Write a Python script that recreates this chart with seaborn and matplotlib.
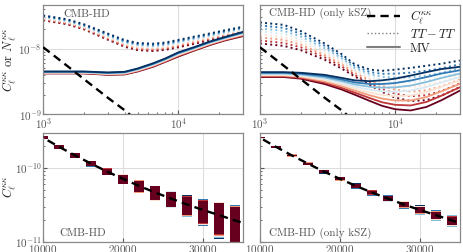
import numpy as np
import matplotlib
matplotlib.use("Agg")
import matplotlib.pyplot as plt
from matplotlib.lines import Line2D
import seaborn as sns

# ---- data -----------------------------------------------------------------
ELL = [1000, 1500, 2000, 3000, 4000, 5000, 6500, 8000, 10000, 13000, 17000, 22000, 30000]

# lensing noise N_ell (x1e-9), rows: 8 foreground levels, red (low) -> blue (high)
HD_TT = [
    [27.0, 23.5, 19.7, 13.7, 10.7, 9.50, 9.2, 9.6, 10.5, 11.8, 13.4, 15.2, 17.5],
    [27.7, 24.1, 20.2, 14.1, 11.1, 9.85, 9.5, 10.0, 10.9, 12.2, 13.9, 15.7, 18.0],
    [28.4, 24.7, 20.7, 14.6, 11.4, 10.2, 9.9, 10.3, 11.3, 12.7, 14.4, 16.2, 18.6],
    [29.1, 25.3, 21.2, 15.0, 11.8, 10.6, 10.3, 10.7, 11.7, 13.2, 14.8, 16.7, 19.1],
    [29.8, 25.9, 21.7, 15.5, 12.2, 11.0, 10.6, 11.1, 12.1, 13.7, 15.4, 17.3, 19.7],
    [30.6, 26.6, 22.3, 16.0, 12.6, 11.4, 11.0, 11.5, 12.6, 14.2, 15.9, 17.8, 20.3],
    [31.3, 27.3, 22.9, 16.5, 13.0, 11.8, 11.4, 11.9, 13.1, 14.7, 16.4, 18.4, 20.9],
    [32.0, 28.0, 23.5, 17.0, 13.5, 12.2, 11.9, 12.4, 13.6, 15.2, 17.0, 19.0, 21.5],
]
HD_MV = [
    [4.20, 4.20, 4.20, 4.00, 4.05, 4.50, 5.3, 6.30, 7.60, 9.30, 11.30, 13.30, 15.50],
    [4.24, 4.24, 4.24, 4.05, 4.11, 4.57, 5.4, 6.41, 7.77, 9.47, 11.51, 13.54, 15.86],
    [4.29, 4.29, 4.29, 4.10, 4.16, 4.64, 5.5, 6.53, 7.94, 9.64, 11.73, 13.79, 16.21],
    [4.33, 4.33, 4.33, 4.15, 4.22, 4.71, 5.6, 6.64, 8.11, 9.81, 11.94, 14.03, 16.57],
    [4.37, 4.37, 4.37, 4.20, 4.28, 4.79, 5.7, 6.76, 8.29, 9.99, 12.16, 14.27, 16.93],
    [4.41, 4.41, 4.41, 4.25, 4.34, 4.86, 5.8, 6.87, 8.46, 10.16, 12.37, 14.51, 17.29],
    [4.46, 4.46, 4.46, 4.30, 4.39, 4.93, 5.9, 6.99, 8.63, 10.33, 12.59, 14.76, 17.64],
    [4.50, 4.50, 4.50, 4.35, 4.45, 5.00, 6.0, 7.10, 8.80, 10.50, 12.80, 15.00, 18.00],
]
KSZ_TT = [
    [12.0, 11.0, 9.5, 6.8, 5.0, 3.8, 2.8, 2.20, 1.80, 1.60, 1.65, 1.95, 2.60],
    [13.3, 12.2, 10.5, 7.4, 5.4, 4.0, 3.0, 2.44, 2.07, 1.89, 1.96, 2.28, 2.97],
    [14.8, 13.6, 11.5, 8.0, 5.8, 4.3, 3.3, 2.72, 2.38, 2.23, 2.33, 2.68, 3.39],
    [16.4, 15.1, 12.6, 8.7, 6.2, 4.6, 3.5, 3.02, 2.74, 2.63, 2.77, 3.13, 3.88],
    [18.3, 16.8, 13.9, 9.4, 6.7, 4.8, 3.8, 3.35, 3.15, 3.10, 3.29, 3.67, 4.43],
    [20.3, 18.6, 15.3, 10.2, 7.2, 5.1, 4.1, 3.73, 3.63, 3.66, 3.90, 4.30, 5.06],
    [22.5, 20.7, 16.8, 11.1, 7.7, 5.5, 4.4, 4.14, 4.17, 4.32, 4.63, 5.03, 5.78],
    [25.0, 23.0, 18.5, 12.0, 8.3, 5.8, 4.8, 4.60, 4.80, 5.10, 5.50, 5.90, 6.60],
]
KSZ_MV = [
    [3.70, 3.70, 3.50, 2.90, 2.40, 2.00, 1.60, 1.35, 1.20, 1.15, 1.30, 1.65, 2.30],
    [3.79, 3.79, 3.60, 3.04, 2.54, 2.15, 1.77, 1.53, 1.40, 1.37, 1.55, 1.93, 2.59],
    [3.89, 3.89, 3.71, 3.18, 2.70, 2.31, 1.95, 1.74, 1.63, 1.63, 1.84, 2.25, 2.92],
    [3.98, 3.98, 3.82, 3.33, 2.86, 2.48, 2.15, 1.98, 1.90, 1.94, 2.19, 2.63, 3.29],
    [4.08, 4.08, 3.94, 3.48, 3.03, 2.66, 2.38, 2.25, 2.21, 2.31, 2.61, 3.07, 3.71],
    [4.19, 4.19, 4.06, 3.65, 3.21, 2.86, 2.63, 2.56, 2.58, 2.75, 3.11, 3.59, 4.17],
    [4.29, 4.29, 4.18, 3.82, 3.40, 3.07, 2.90, 2.90, 3.00, 3.28, 3.70, 4.19, 4.70],
    [4.40, 4.40, 4.30, 4.00, 3.60, 3.30, 3.20, 3.30, 3.50, 3.90, 4.40, 4.90, 5.30],
]

# lensing power C_ell^kk (x1e-10)
ELL_C = [1000, 1500, 2000, 3000, 4000, 5000, 7000, 10000, 12000, 14000, 16000, 18000,
         20000, 22000, 24000, 26000, 28000, 30000, 32000, 34000, 35000]
CKK = [105, 55, 34.5, 18, 11.6, 7.9, 4.4, 2.55, 1.92, 1.47, 1.14, 0.89,
       0.71, 0.57, 0.465, 0.385, 0.32, 0.27, 0.23, 0.195, 0.18]

# bandpower bins and fractional errors (sigma / C), rows red -> blue
BINS = [10000, 12000, 14000, 16000, 18000, 20000, 22000, 24000, 26000, 28000, 30000, 32000, 34000]
CKK_BINS = [2.55, 1.92, 1.47, 1.14, 0.89, 0.71, 0.57, 0.465, 0.385, 0.32, 0.27, 0.23, 0.195]
HD_FRAC = [
    [.046, .061, .066, .077, .100, .137, .178, .207, .226, .280, .340, .450, .520],
    [.047, .062, .067, .078, .102, .140, .182, .212, .231, .287, .348, .461, .532],
    [.047, .063, .068, .080, .104, .143, .186, .216, .237, .293, .356, .471, .544],
    [.048, .064, .069, .081, .106, .146, .190, .221, .242, .300, .364, .482, .556],
    [.048, .064, .071, .083, .108, .148, .193, .226, .247, .307, .373, .493, .568],
    [.049, .065, .072, .084, .110, .151, .197, .231, .252, .314, .381, .504, .581],
    [.049, .066, .073, .086, .112, .154, .201, .235, .258, .320, .389, .514, .593],
    [.050, .067, .074, .087, .114, .157, .205, .240, .263, .327, .397, .525, .605],
]
KSZ_FRAC = [
    [.020, .024, .028, .032, .038, .045, .052, .060, .068, .077, .090, .105, .123],
    [.021, .026, .030, .035, .041, .049, .056, .065, .074, .084, .099, .115, .134],
    [.023, .027, .032, .037, .044, .052, .061, .070, .080, .092, .107, .124, .144],
    [.024, .029, .034, .040, .047, .056, .065, .075, .086, .099, .116, .134, .155],
    [.026, .031, .037, .042, .049, .059, .069, .080, .092, .106, .124, .144, .165],
    [.027, .033, .039, .045, .052, .063, .073, .085, .098, .113, .133, .154, .176],
    [.029, .034, .041, .047, .055, .066, .078, .090, .104, .121, .141, .163, .186],
    [.030, .036, .043, .050, .058, .070, .082, .095, .110, .128, .150, .173, .197],
]

# ---- style -----------------------------------------------------------------
sns.set_style("whitegrid")
plt.rcParams.update({
    "font.family": "serif",
    "font.serif": ["cmr10", "DejaVu Serif"],
    "mathtext.fontset": "cm",
    "axes.formatter.use_mathtext": True,
    "axes.unicode_minus": False,
    "axes.edgecolor": "#888888",
    "axes.linewidth": 0.9,
    "grid.color": "#dddddd",
    "grid.linewidth": 0.8,
    "xtick.color": "#555555",
    "ytick.color": "#555555",
})

n_cur = len(HD_TT)
colors = [plt.cm.RdBu(v) for v in np.linspace(0, 1, n_cur)]
ell = np.array(ELL)
ell_c = np.array(ELL_C)
ckk = np.array(CKK) * 1e-10
dash = (0, (3.5, 2.2))

fig, axes = plt.subplots(2, 2, figsize=(4.64, 2.52), dpi=100, sharey="row")
fig.subplots_adjust(left=0.093, right=0.991, top=0.98, bottom=0.04, wspace=0.085, hspace=0.165)

# ---- top row: noise curves -------------------------------------------------
for ax, tt, mv, name, tx in [(axes[0, 0], HD_TT, HD_MV, "CMB-HD", 0.22),
                             (axes[0, 1], KSZ_TT, KSZ_MV, "CMB-HD (only kSZ)", 0.30)]:
    for k in range(n_cur):
        sns.lineplot(x=ell, y=np.array(tt[k]) * 1e-9, ax=ax, color=colors[k],
                     linestyle=":", lw=1.4)
    for k in range(n_cur):
        sns.lineplot(x=ell, y=np.array(mv[k]) * 1e-9, ax=ax, color=colors[k], lw=1.3)
    sns.lineplot(x=ell_c, y=ckk, ax=ax, color="black", linestyle=dash, lw=1.7, zorder=5)
    ax.set_xscale("log")
    ax.set_yscale("log")
    ax.set_xlim(1000, 30000)
    ax.set_ylim(1e-9, 4.6e-8)
    ax.text(tx, 0.92, name, transform=ax.transAxes, ha="center", va="center",
            fontsize=8, color="#555555")

axes[0, 0].set_ylabel(r"$C_\ell^{\kappa\kappa}$ or $N_\ell^{\kappa\kappa}$", fontsize=9)
axes[0, 0].yaxis.set_label_coords(-0.125, 0.5)

handles = [Line2D([], [], color="black", linestyle=dash, lw=1.7),
           Line2D([], [], color="gray", linestyle=":", lw=1.0),
           Line2D([], [], color="gray", lw=1.5)]
axes[0, 1].legend(handles, [r"$C_\ell^{\kappa\kappa}$", r"$TT-TT$", "MV"], loc="upper right",
                  frameon=False, fontsize=9, handlelength=2.6, borderaxespad=0.05,
                  labelspacing=0.15, borderpad=0.2)

# ---- bottom row: binned C_ell with error boxes -----------------------------
bins = np.array(BINS)
cb = np.array(CKK_BINS) * 1e-10
for ax, frac, name in [(axes[1, 0], HD_FRAC, "CMB-HD"),
                       (axes[1, 1], KSZ_FRAC, "CMB-HD (only kSZ)")]:
    for k in reversed(range(n_cur)):
        sig = cb * np.array(frac[k])
        ax.bar(bins, 2 * sig, bottom=cb - sig, width=1250, color=colors[k], lw=0, zorder=2)
    sns.lineplot(x=ell_c, y=ckk, ax=ax, color="black", linestyle=dash, lw=1.7, zorder=5)
    ax.set_yscale("log")
    ax.set_xlim(10000, 35000)
    ax.set_ylim(1e-11, 3.0e-10)
    ax.set_xticks([10000, 20000, 30000])
    ax.text(0.30 if "kSZ" in name else 0.20, 0.08, name, transform=ax.transAxes,
            ha="center", va="center", fontsize=8, color="#555555")

axes[1, 0].set_ylabel(r"$C_\ell^{\kappa\kappa}$", fontsize=9)
axes[1, 0].yaxis.set_label_coords(-0.125, 0.5)

for ax in axes.flat:
    ax.grid(True, which="major")
    ax.grid(False, which="minor")
    ax.tick_params(axis="both", which="major", labelsize=8, length=3, pad=1, direction="in")
    ax.tick_params(axis="both", which="minor", length=1.5, direction="in")
    ax.tick_params(left=True, bottom=True, which="both")
    for s in ax.spines.values():
        s.set_color("#888888")
axes[0, 1].set_ylabel("")
axes[1, 1].set_ylabel("")

fig.savefig("out.png", dpi=100)
